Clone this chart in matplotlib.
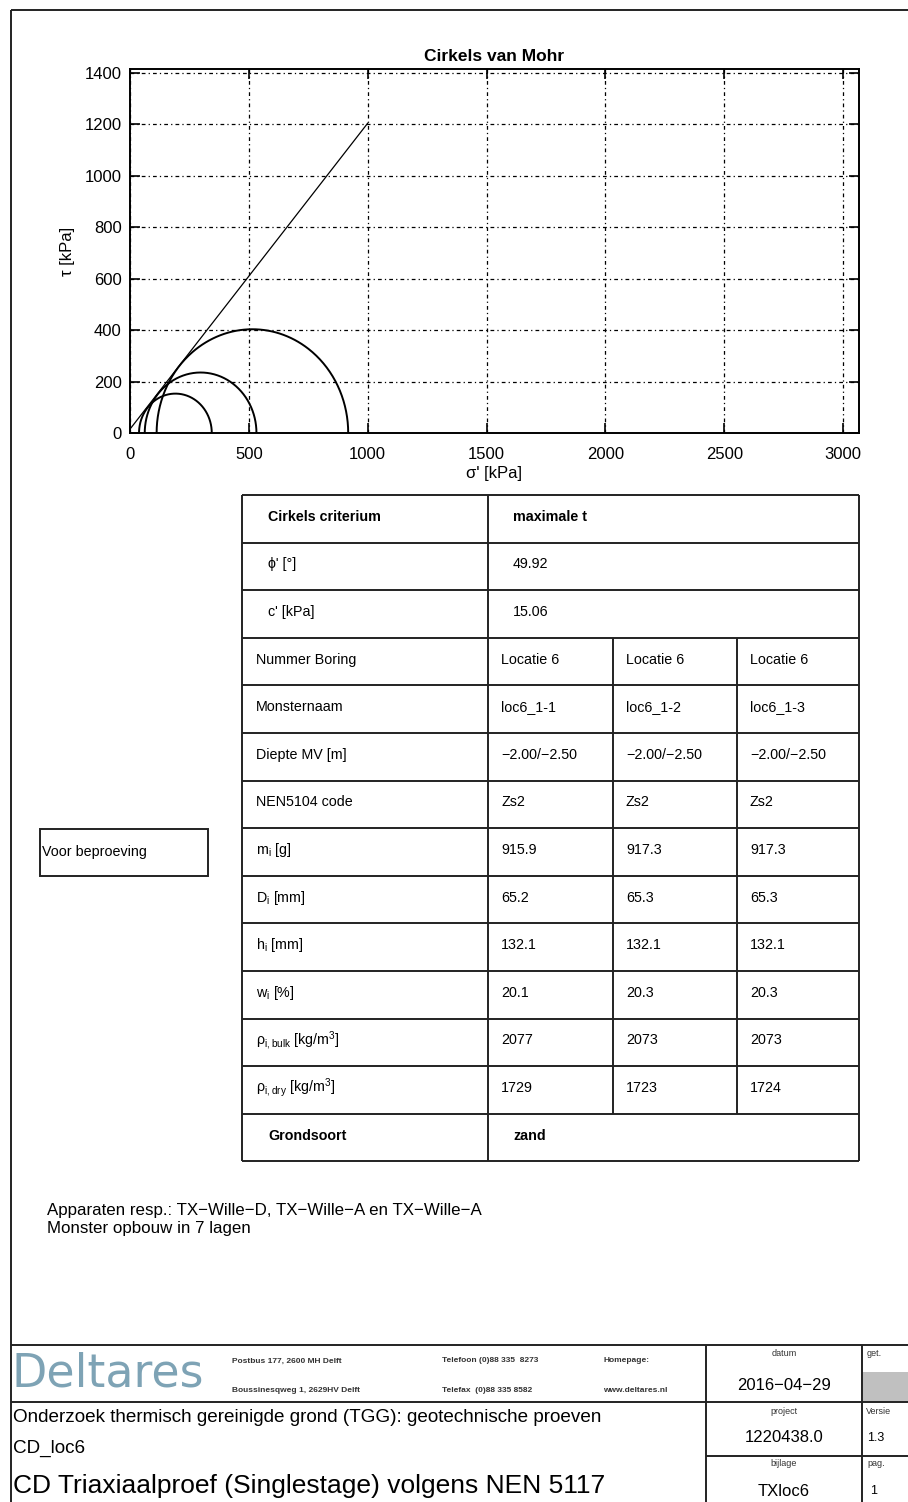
import numpy as np
import matplotlib
matplotlib.use("Agg")
import matplotlib.pyplot as plt
from matplotlib.patches import Rectangle

plt.rcParams['font.family'] = ['Liberation Sans', 'DejaVu Sans']
plt.rcParams['mathtext.default'] = 'regular'

# Mohr circles (sigma3, sigma1) in kPa
sigma3 = [38, 62, 112]
sigma1 = [344, 532, 918]
c_eff = 15.06      # c' [kPa]
phi_eff = 49.92    # phi' [deg]
line_x = [0, 1000]

x_ticks = [0, 500, 1000, 1500, 2000, 2500, 3000]
y_ticks = [0, 200, 400, 600, 800, 1000, 1200, 1400]

# table content
row_labels = ["Cirkels criterium", "ϕ' [°]", "c' [kPa]", "Nummer Boring", "Monsternaam",
              "Diepte MV [m]", "NEN5104 code", "m$_{i}$ [g]", "D$_{i}$ [mm]", "h$_{i}$ [mm]",
              "w$_{i}$ [%]", "ρ$_{i,bulk}$ [kg/m$^{3}$]", "ρ$_{i,dry}$ [kg/m$^{3}$]", "Grondsoort"]
span_values = {0: "maximale t", 1: "49.92", 2: "15.06", 13: "zand"}
col_values = {
    3: ["Locatie 6", "Locatie 6", "Locatie 6"],
    4: ["loc6_1-1", "loc6_1-2", "loc6_1-3"],
    5: ["\u22122.00/\u22122.50", "\u22122.00/\u22122.50", "\u22122.00/\u22122.50"],
    6: ["Zs2", "Zs2", "Zs2"],
    7: ["915.9", "917.3", "917.3"],
    8: ["65.2", "65.3", "65.3"],
    9: ["132.1", "132.1", "132.1"],
    10: ["20.1", "20.3", "20.3"],
    11: ["2077", "2073", "2073"],
    12: ["1729", "1723", "1724"],
}
bold_rows = [0, 13]

W, H = 908, 1502
fig = plt.figure(figsize=(W / 100, H / 100), dpi=100)

# ---- Mohr plot ----
ax_l, ax_r, ax_t, ax_b = 130, 859, 69, 433
ax = fig.add_axes([ax_l / W, 1 - ax_b / H, (ax_r - ax_l) / W, (ax_b - ax_t) / H])
th = np.linspace(0, np.pi, 300)
for s3, s1 in zip(sigma3, sigma1):
    cen = (s1 + s3) / 2
    rad = (s1 - s3) / 2
    ax.plot(cen + rad * np.cos(th), rad * np.sin(th), color="black", lw=1.4)
lx = np.array(line_x)
ax.plot(lx, c_eff + lx * np.tan(np.radians(phi_eff)), color="black", lw=0.9)
ax.set_xlim(0, 3067)
ax.set_ylim(0, 1414)
ax.set_xticks(x_ticks)
ax.set_yticks(y_ticks)
ax.grid(True, color="black", lw=0.9, linestyle=(0, (3, 2.5, 1, 2.5)))
ax.tick_params(direction="in", length=7, width=1.2, top=True, right=True, labelsize=12)
ax.tick_params(axis="x", pad=10)
ax.tick_params(axis="y", pad=6)
for sp in ax.spines.values():
    sp.set_linewidth(1.4)
ax.set_title("Cirkels van Mohr", fontsize=12.5, fontweight="bold", pad=6)
ax.set_xlabel("σ' [kPa]", fontsize=12, labelpad=3)
ax.set_ylabel("τ [kPa]", fontsize=12, labelpad=7)

# ---- page overlay in pixel coordinates ----
pg = fig.add_axes([0, 0, 1, 1], zorder=-1)
pg.set_xlim(0, W)
pg.set_ylim(H, 0)
pg.axis("off")

def hline(y, x0, x1, lw=1.4):
    pg.plot([x0, x1], [y, y], color="#222222", lw=lw, solid_capstyle="butt")

def vline(x, y0, y1, lw=1.4):
    pg.plot([x, x], [y0, y1], color="#222222", lw=lw, solid_capstyle="butt")

# page border
hline(10, 11, W)
vline(11, 10, H)

# table
cols = [242, 488, 613, 737, 859]
top = 495
rh = 47.6
n = len(row_labels)
for i in range(n + 1):
    hline(top + i * rh, cols[0], cols[-1])
vline(cols[0], top, top + n * rh)
vline(cols[1], top, top + n * rh)
vline(cols[-1], top, top + n * rh)
vline(cols[2], top + 3 * rh, top + 13 * rh)
vline(cols[3], top + 3 * rh, top + 13 * rh)
for i, lab in enumerate(row_labels):
    yc = top + i * rh + rh / 2 - 2
    indent = 268 if i in (0, 1, 2, 13) else 256
    fw = "bold" if i in bold_rows else "normal"
    pg.text(indent, yc, lab, fontsize=10.3, va="center", ha="left", fontweight=fw)
    if i in span_values:
        pg.text(513, yc, span_values[i], fontsize=10.3, va="center", ha="left", fontweight=fw)
    else:
        for j, v in enumerate(col_values[i]):
            pg.text(cols[1 + j] + 13, yc, v, fontsize=10.3, va="center", ha="left")

# side box
pg.add_patch(Rectangle((40, 829), 168, 47, fill=False, lw=1.4, ec="#222222"))
pg.text(42, 852, "Voor beproeving", fontsize=10.3, va="center", ha="left")

# notes
pg.text(47, 1210, "Apparaten resp.: TX\u2212Wille\u2212D, TX\u2212Wille\u2212A en TX\u2212Wille\u2212A",
        fontsize=12.2, va="center")
pg.text(47, 1228, "Monster opbouw in 7 lagen", fontsize=12.2, va="center")

# footer frame
hline(1345, 11, W)
hline(1402, 11, W)
hline(1456, 706, W)
vline(706, 1345, H)
vline(862, 1345, H)
pg.add_patch(Rectangle((863, 1372), 45, 29, color="#c0c0c0", lw=0))

pg.text(12, 1374, "Deltares", fontsize=33, color="#7ea3b5", va="center", ha="left",
        family="DejaVu Sans")
small = dict(fontsize=6, fontweight="bold", va="center", ha="left", color="#333333")
pg.text(232, 1361, "Postbus 177, 2600 MH Delft", **small)
pg.text(232, 1390, "Boussinesqweg 1, 2629HV Delft", **small)
pg.text(442, 1361, "Telefoon (0)88 335  8273", **small)
pg.text(442, 1390, "Telefax  (0)88 335 8582", **small)
pg.text(603, 1361, "Homepage:", **small)
pg.text(603, 1390, "www.deltares.nl", **small)

pg.text(13, 1418, "Onderzoek thermisch gereinigde grond (TGG): geotechnische proeven",
        fontsize=13.6, va="center")
pg.text(13, 1448, "CD_loc6", fontsize=13.6, va="center")
pg.text(13, 1486, "CD Triaxiaalproef (Singlestage) volgens NEN 5117", fontsize=19, va="center")

cx = (706 + 862) / 2
lab_s = dict(fontsize=6.5, ha="center", va="center", color="#333333")
val_s = dict(fontsize=12, ha="center", va="center")
pg.text(cx, 1354, "datum", **lab_s)
pg.text(cx, 1386, "2016\u221204\u221229", **val_s)
pg.text(cx, 1411, "project", **lab_s)
pg.text(cx, 1438, "1220438.0", **val_s)
pg.text(cx, 1464, "bijlage", **lab_s)
pg.text(cx, 1491, "TXloc6", **val_s)
lab_r = dict(fontsize=6.5, ha="left", va="center", color="#333333")
pg.text(867, 1354, "get.", **lab_r)
pg.text(866, 1411, "Versie", **lab_r)
pg.text(867, 1464, "pag.", **lab_r)
pg.text(867, 1438, "1.3", fontsize=9, ha="left", va="center")
pg.text(870, 1491, "1", fontsize=9, ha="left", va="center")

fig.savefig("out.png", dpi=100)
